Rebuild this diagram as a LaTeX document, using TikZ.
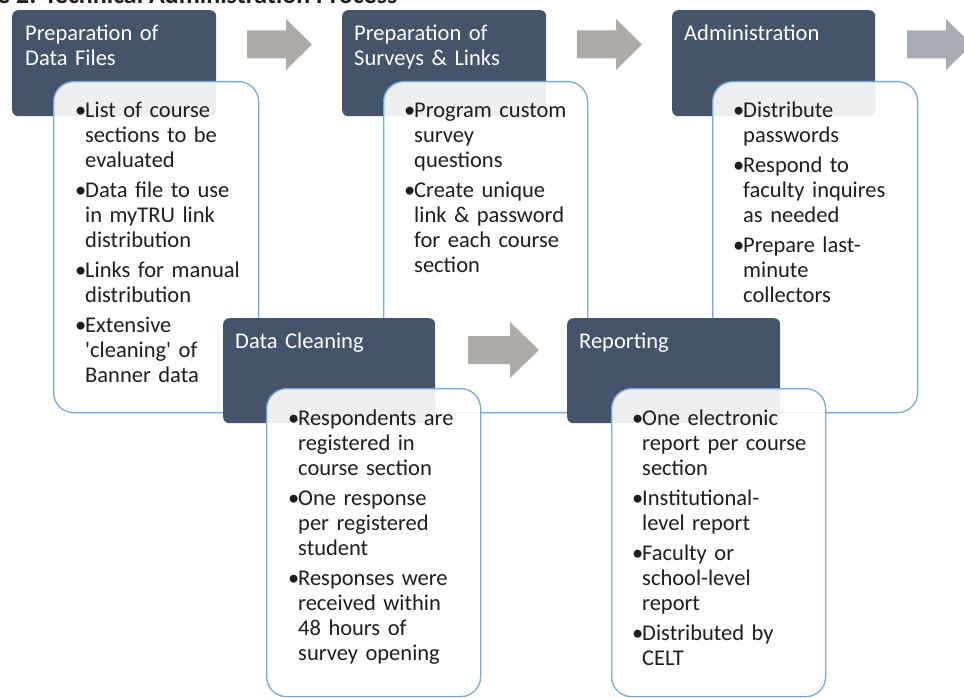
\documentclass[tikz,border=0pt]{standalone}
\usepackage{fontspec}
\setmainfont{Carlito}
\definecolor{darkc}{HTML}{44546A}
\definecolor{bluec}{HTML}{74AADF}
\definecolor{arrc}{HTML}{AEAAA7}
\definecolor{arrb}{HTML}{A9ADB3}
\definecolor{txtc}{HTML}{1E1E1E}
\newcommand{\bitem}[1]{\par\noindent\hangindent=10pt\hangafter=1\makebox[10pt][l]{\textbullet}\strut#1\par}
\tikzset{
  darkbox/.style={fill=darkc, rounded corners=6pt, draw=none, inner sep=0pt, anchor=north west},
  wbox/.style={fill=white, fill opacity=0.9, draw=bluec, line width=1.3pt, rounded corners=20pt, inner sep=0pt, anchor=north west},
  ttl/.style={text=white, font=\fontsize{22.5}{25}\selectfont, anchor=north west, inner sep=0pt, text width=190pt, execute at begin node={\raggedright\strut}},
  btxt/.style={text=txtc, font=\fontsize{22.5}{25}\selectfont, anchor=north west, inner sep=0pt, text width=190pt, execute at begin node={\setlength{\parskip}{5pt}\raggedright}},
  grarrow/.style={fill=arrc, draw=none}
}
\begin{document}
\begin{tikzpicture}[x=1pt,y=-1pt]
\useasboundingbox (0,0) rectangle (964,698);
\clip (0,0) rectangle (964,698);
% title (cut off at top)
\node[font=\bfseries\fontsize{26}{30}\selectfont, anchor=base west, inner sep=0pt, text=txtc] (title) at (-3,4) {e 2: Technical Administration Process};
% top row dark boxes
\node[darkbox, minimum width=204pt, minimum height=106pt] (d1) at (12,10) {};
\node[darkbox, minimum width=204pt, minimum height=106pt] (d2) at (342,10) {};
\node[darkbox, minimum width=203pt, minimum height=106pt] (d3) at (672,10) {};
\node[ttl] (t1) at (25,22.5) {Preparation of\newline Data Files};
\node[ttl] (t2) at (354,22.5) {Preparation of\newline Surveys \& Links};
\node[ttl] (t3) at (684,22.5) {Administration};
% top row white boxes
\node[wbox, minimum width=205pt, minimum height=331pt] (w1) at (53,81) {};
\node[wbox, minimum width=204pt, minimum height=331pt] (w2) at (383,81) {};
\node[wbox, minimum width=205pt, minimum height=331pt] (w3) at (712,81) {};
\node[btxt] (b1) at (75,87.5) {%
\bitem{List of course\newline sections to be\newline evaluated}
\bitem{Data file to use\newline in myTRU link\newline distribution}
\bitem{Links for manual\newline distribution}
\bitem{Extensive\newline \textquotesingle cleaning\textquotesingle\ of\newline Banner data}};
\node[btxt] (b2) at (404,87.5) {%
\bitem{Program custom\newline survey\newline questions}
\bitem{Create unique\newline link \& password\newline for each course\newline section}};
\node[btxt] (b3) at (733,87.5) {%
\bitem{Distribute\newline passwords}
\bitem{Respond to\newline faculty inquires\newline as needed}
\bitem{Prepare last-\newline minute\newline collectors}};
% arrows
\fill[grarrow] (247,30.5) -- (286,30.5) -- (286,19) -- (312,44.5) -- (286,70) -- (286,58.5) -- (247,58.5) -- cycle;
\fill[grarrow] (577,30.5) -- (616,30.5) -- (616,19) -- (642,44.5) -- (616,70) -- (616,58.5) -- (577,58.5) -- cycle;
\fill[grarrow, fill=arrb] (907,30.5) -- (946,30.5) -- (946,19) -- (972,44.5) -- (946,70) -- (946,58.5) -- (907,58.5) -- cycle;
\fill[grarrow] (468,336) -- (510,336) -- (510,322) -- (539,350) -- (510,378) -- (510,364) -- (468,364) -- cycle;
% bottom row dark boxes
\node[darkbox, minimum width=212pt, minimum height=105pt] (d4) at (223,318) {};
\node[darkbox, minimum width=213pt, minimum height=105pt] (d5) at (567,318) {};
\node[ttl] (t4) at (235,330.5) {Data Cleaning};
\node[ttl] (t5) at (579,330.5) {Reporting};
% bottom row white boxes
\node[wbox, minimum width=214pt, minimum height=308pt] (w4) at (266,388) {};
\node[wbox, minimum width=214pt, minimum height=308pt] (w5) at (611,388) {};
\node[btxt] (b4) at (288,395.5) {%
\bitem{Respondents are\newline registered in\newline course section}
\bitem{One response\newline per registered\newline student}
\bitem{Responses were\newline received within\newline 48 hours of\newline survey opening}};
\node[btxt] (b5) at (632,395.5) {%
\bitem{One electronic\newline report per course\newline section}
\bitem{Institutional-\newline level report}
\bitem{Faculty or\newline school-level\newline report}
\bitem{Distributed by\newline CELT}};
\end{tikzpicture}
\end{document}
